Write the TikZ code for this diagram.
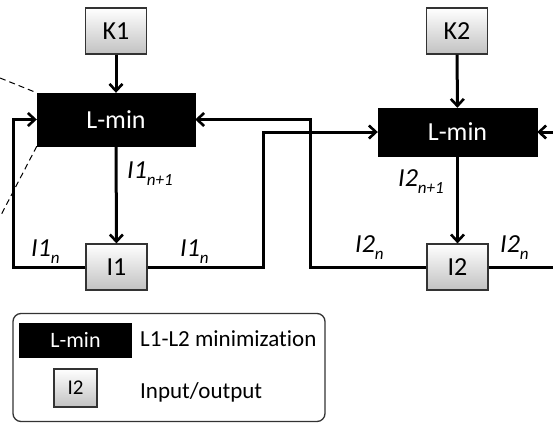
\documentclass[tikz,border=0pt]{standalone}
\usepackage{fontspec}
\setmainfont[Ligatures={NoCommon}]{Carlito}
\usetikzlibrary{arrows.meta}
\definecolor{boxline}{HTML}{333333}
\tikzset{
  lminbox/.style={fill=black, draw=black, text=white, minimum width=158pt, minimum height=53pt, inner sep=0pt, font=\fontsize{26}{30}\selectfont},
  iobox/.style={draw=boxline, line width=1.2pt, top color=white, bottom color=black!24, minimum width=61pt, minimum height=46pt, inner sep=0pt, font=\fontsize{26}{30}\selectfont},
  flow/.style={line width=3pt, -{Straight Barb[length=7pt,width=13pt,line width=2.6pt]}},
  wire/.style={line width=3pt},
  lab/.style={anchor=base west, inner sep=0pt, font=\fontsize{26}{30}\selectfont\itshape},
  guide/.style={line width=1pt, dash pattern=on 6pt off 4pt},
  legtext/.style={anchor=west, inner sep=0pt, font=\fontsize{23}{27}\selectfont},
}
\newcommand{\subidx}[1]{\raisebox{-7pt}{\fontsize{17}{20}\selectfont #1}}
\begin{document}
\begin{tikzpicture}[x=1pt,y=-1pt]
\useasboundingbox (0,0) rectangle (553,423);

% processing blocks
\node[lminbox] (m1) at (116,119.5) {L-min};
\node[lminbox, minimum width=159pt, minimum height=48pt] (m2) at (457.5,132) {L-min};
\node[iobox] (k1) at (116,31) {K1};
\node[iobox] (k2) at (457,31) {K2};
\node[iobox] (i1) at (116.5,267) {I1};
\node[iobox] (i2) at (457.5,267) {I2};

% dashed guide lines
\coordinate (d1) at (0,78);
\coordinate (d2) at (0,217);
\draw[guide] (d1) -- (m1.north west);
\draw[guide] (m1.south west) -- (d2);

% connectors
\draw[flow] (k1) -- (m1);
\draw[flow] (k2) -- (m2);
\draw[flow] (m1) -- (i1);
\draw[flow] (m2) -- (i2);
\draw[flow] (i1.west) -| (13,119.5) -- (m1.west);
\draw[flow] (i1.east) -| (263,132) -- (m2.west);
\draw[flow] (i2.west) -| (310,119.5) -- (m1.east);
\coordinate (rin) at (553,132);
\coordinate (rout) at (553,267);
\draw[flow] (rin) -- (m2.east);
\draw[wire] (i2.east) -- (rout);

% labels
\node[lab] (l1) at (127,178) {I1\subidx{n+1}};
\node[lab] (l2) at (31,256) {I1\subidx{n}};
\node[lab] (l3) at (180,256) {I1\subidx{n}};
\node[lab] (l4) at (398,186) {I2\subidx{n+1}};
\node[lab] (l5) at (355,252) {I2\subidx{n}};
\node[lab] (l6) at (500,252) {I2\subidx{n}};

% legend
\node[draw=boxline, line width=1.3pt, rounded corners=8pt, minimum width=312pt, minimum height=108pt, inner sep=0pt] (leg) at (169,367.5) {};
\node[lminbox, minimum width=112pt, minimum height=34pt, font=\fontsize{22}{26}\selectfont] (lm) at (75.5,340) {L-min};
\node[iobox, minimum width=43pt, minimum height=38pt, font=\fontsize{21}{25}\selectfont] (li) at (75.5,388) {I2};
\node[legtext] (lt1) at (140,339) {L1-L2 minimization};
\node[legtext] (lt2) at (140,392) {Input/output};
\end{tikzpicture}
\end{document}
